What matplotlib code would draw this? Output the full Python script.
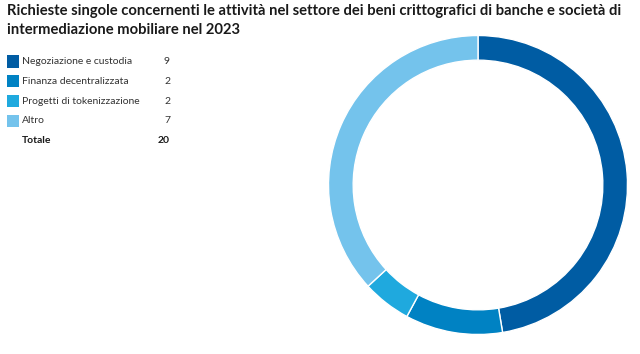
import matplotlib
matplotlib.use("Agg")
import matplotlib.pyplot as plt
from matplotlib.patches import Rectangle

title = "Richieste singole concernenti le attività nel settore dei beni crittografici di banche e società di\nintermediazione mobiliare nel 2023"
categories = ["Negoziazione e custodia", "Finanza decentralizzata",
              "Progetti di tokenizzazione", "Altro"]
legend_values = [9, 2, 2, 7]
slice_values = [9, 2, 1, 7]   # proportions as drawn in the ring
total_label = "Totale"
total_value = 20
colors = ["#005ca3", "#0082c3", "#1fa9de", "#74c3ec"]

W, H = 640, 354
fig = plt.figure(figsize=(W / 100, H / 100), dpi=100)
fig.patch.set_facecolor("white")

def fx(px):
    return px / W

def fy(py):
    return 1 - py / H

font = "Lato"

fig.text(fx(7), fy(4), title, ha="left", va="top", fontsize=10.6,
         fontweight="bold", family=font, color="#1a1a1a", linespacing=1.45)

# legend table
row_y = [61.5, 81.2, 101, 120.7]
fs = 7.5
for i, (c, v, col) in enumerate(zip(categories, legend_values, colors)):
    y = row_y[i]
    fig.patches.append(Rectangle((fx(7), fy(y + 6)), 12 / W, 12 / H,
                                 transform=fig.transFigure, facecolor=col,
                                 edgecolor="none"))
    fig.text(fx(22), fy(y), c, ha="left", va="center", fontsize=fs,
             family=font, color="#333333")
    fig.text(fx(170), fy(y), str(v), ha="right", va="center", fontsize=fs,
             family=font, color="#333333")
fig.text(fx(22), fy(140.5), total_label, ha="left", va="center", fontsize=fs,
         family=font, fontweight="bold", color="#1a1a1a")
fig.text(fx(170), fy(140.5), str(total_value), ha="right", va="center",
         fontsize=fs, family=font, fontweight="bold", color="#1a1a1a")

# donut
cx, cy, r = 478, 185, 149.5
ax = fig.add_axes([fx(cx - r), fy(cy + r), 2 * r / W, 2 * r / H])
ax.pie(slice_values, colors=colors, startangle=90, counterclock=False,
       radius=1, wedgeprops=dict(width=0.165, edgecolor="white", linewidth=1))
ax.set_xlim(-1, 1)
ax.set_ylim(-1, 1)
ax.set_aspect("equal")
ax.axis("off")

fig.savefig("out.png", dpi=100, facecolor="white")
